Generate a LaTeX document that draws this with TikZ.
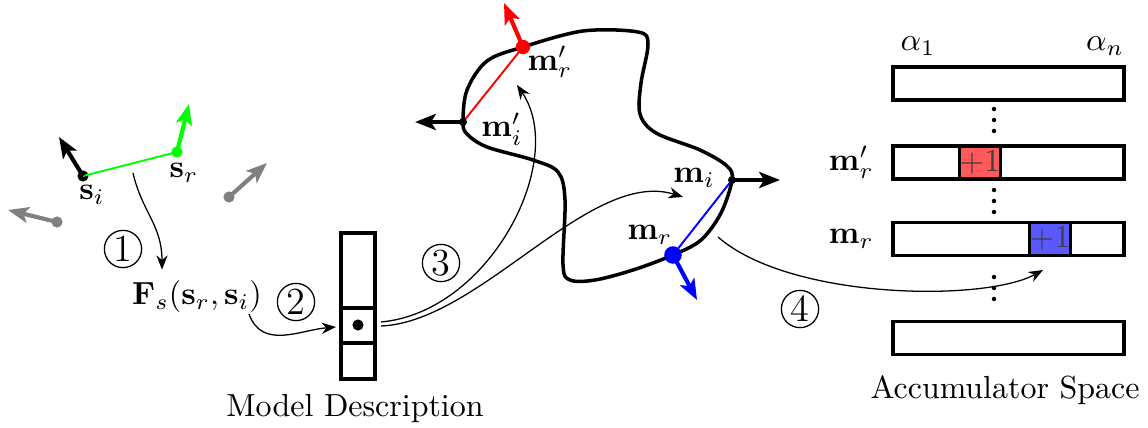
\documentclass[tikz,border=0pt]{standalone}
\usepackage{amsmath, amssymb, bm}
\usepackage{tikz}
\usetikzlibrary{arrows.meta, positioning, calc}

\begin{document}
\begin{tikzpicture}[x=0.011cm, y=-0.011cm,
    vec/.style={line width=1.3pt, -{Stealth[length=6.5pt, width=5pt, inset=1.5pt]}},
    flow/.style={thin, -{Stealth[length=4.5pt, width=3.5pt]}},
    spot/.style={circle, fill, inner sep=0pt, minimum size=#1},
    numcirc/.style={circle, draw, thin, inner sep=0pt, minimum size=0.41cm, font=\large},
    row/.style={draw, line width=1pt, minimum width=2.541cm, minimum height=0.363cm, inner sep=0pt},
    vote/.style={draw, line width=1pt, minimum width=0.374cm, minimum height=0.363cm, inner sep=0pt, text=black!75}]
  \useasboundingbox (0,0) rectangle (1148,427);

  % scene points
  \node[spot=3.5pt] (si) at (83,176) {};
  \node[spot=3.5pt, green] (sr) at (177,152) {};
  \coordinate (siTip) at (59,137);
  \coordinate (srTip) at (189,104);
  \draw[green, semithick] (si.center) -- (sr.center);
  \draw[vec] (si.center) -- (siTip);
  \draw[vec, green] (sr.center) -- (srTip);
  \node at (92,195) {$\mathbf{s}_i$};
  \node at (184,173) {$\mathbf{s}_r$};
  \node[spot=3.5pt, gray] (g1) at (229,197) {};
  \node[spot=3.5pt, gray] (g2) at (57,222) {};
  \coordinate (g1Tip) at (267,163);
  \coordinate (g2Tip) at (8,210);
  \draw[vec, gray] (g1.center) -- (g1Tip);
  \draw[vec, gray] (g2.center) -- (g2Tip);

  % feature
  \node (feat) at (197,297) {$\mathbf{F}_s(\mathbf{s}_r, \mathbf{s}_i)$};
  \coordinate (pair) at (133,173);
  \coordinate (featOut) at (249,314);
  \draw[flow] (pair) .. controls (142,212) and (162,225) .. (feat.north -| 162,0);
  \node[numcirc] (c1) at (123,249) {1};

  % model description
  \draw[line width=1pt] (341,233) rectangle (375,379);
  \draw[line width=1pt] (341,308) -- (375,308) (341,343) -- (375,343);
  \node[spot=3.5pt] (key) at (358,325) {};
  \coordinate (keyW) at (336,327);
  \coordinate (keyE1) at (381,322);
  \coordinate (keyE2) at (381,326);
  \node at (355,409) {Model Description};
  \draw[flow] (featOut) .. controls (262,350) and (300,330) .. (keyW);
  \node[numcirc] (c2) at (296,302) {2};

  % model surface
  \coordinate (mip) at (463,122);
  \coordinate (mrp) at (523,47);
  \coordinate (mi) at (732,180);
  \coordinate (mr) at (673,255);
  \draw[line width=1.1pt] plot[smooth cycle, tension=0.55] coordinates {
    (mip) (467,90) (487,61) (mrp) (583,31) (638,32) (648,44) (641,83)
    (640,114) (656,133) (700,150) (727,166) (mi) (721,213) (701,240)
    (mr) (633,270) (595,280) (570,280) (563,265) (565,200) (558,172)
    (533,160) (487,147) (467,134)};
  \draw[red, semithick] (mip) -- (mrp);
  \draw[blue, semithick] (mi) -- (mr);
  \coordinate (mipTip) at (415,122);
  \coordinate (mrpTip) at (504,3);
  \coordinate (miTip) at (780,180);
  \coordinate (mrTip) at (697,300);
  \draw[vec] (mip) -- (mipTip);
  \draw[vec, red] (mrp) -- (mrpTip);
  \draw[vec] (mi) -- (miTip);
  \draw[vec, blue] (mr) -- (mrTip);
  \node[spot=2.5pt] at (mip) {};
  \node[spot=2.5pt] at (mi) {};
  \node[spot=4.5pt, red] at (mrp) {};
  \node[spot=5.5pt, blue] at (mr) {};
  \node at (550,62) {$\mathbf{m}'_r$};
  \node at (502,129) {$\mathbf{m}'_i$};
  \node at (694,178) {$\mathbf{m}_i$};
  \node at (650,235) {$\mathbf{m}_r$};

  % lookup
  \coordinate (hitA) at (517,85);
  \coordinate (hitB) at (683,197);
  \draw[flow] (keyE1) .. controls (490,312) and (568,160) .. (hitA);
  \draw[flow] (keyE2) .. controls (480,322) and (590,168) .. (hitB);
  \node[numcirc] (c3) at (441,263) {3};

  % accumulator space
  \node[row] (acc1) at (1008.5,83.5) {};
  \node[row] (accMrp) at (1008.5,162.5) {};
  \node[row] (accMr) at (1008.5,239) {};
  \node[row] (accN) at (1008.5,338) {};
  \node[vote, fill=red!65] (voteA) at (980,162.5) {$+1$};
  \node[vote, fill=blue!65] (voteB) at (1050,239) {$+1$};
  \foreach \y in {109,120,131, 190,201,212, 277,288,299}
    \fill (994,\y) circle (0.7pt);
  \node at (918,46) {$\alpha_1$};
  \node at (1105,46) {$\alpha_n$};
  \node[left=2pt of accMrp] {$\mathbf{m}'_r$};
  \node[left=2pt of accMr] {$\mathbf{m}_r$};
  \node at (1005,390) {Accumulator Space};
  \coordinate (voteSrc) at (718,237);
  \draw[flow] (voteSrc) .. controls (790,300) and (985,302) .. (1043,270);
  \node[numcirc] (c4) at (800,309) {4};
\end{tikzpicture}
\end{document}
